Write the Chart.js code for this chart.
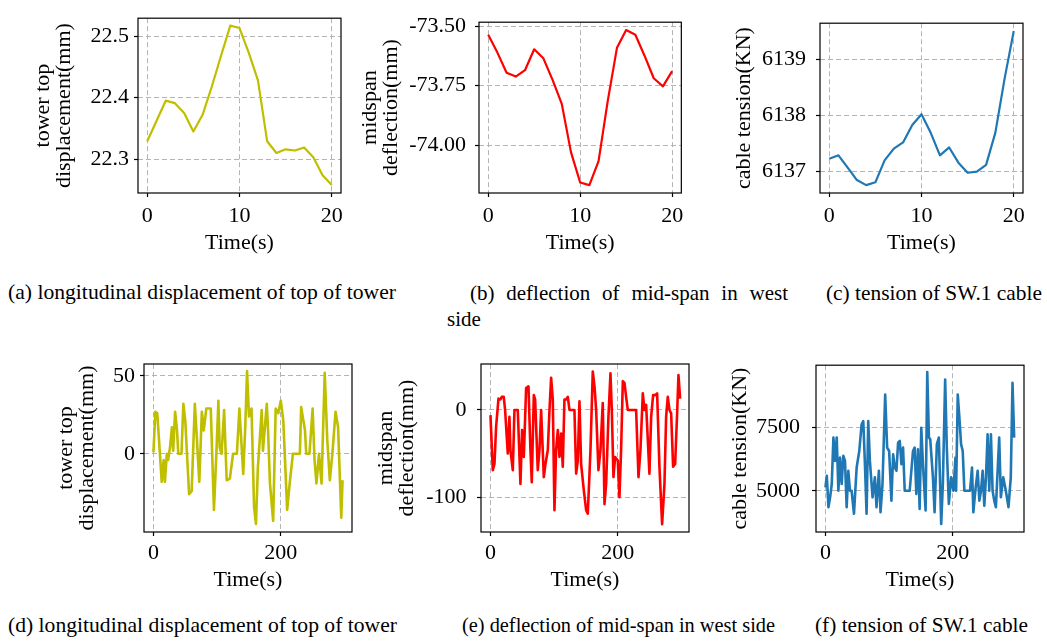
<!DOCTYPE html>
<html>
<head>
<meta charset="utf-8">
<script src="https://cdn.jsdelivr.net/npm/chart.js"></script>
<style>
  body { margin: 0; background: #fff; width: 1047px; height: 641px; position: relative; overflow: hidden;
         font-family: "Liberation Serif", "Times New Roman", serif; color: #000; }
  .cap { position: absolute; font-size: 21px; line-height: 21px; white-space: nowrap; transform-origin: 0 0; }
</style>
</head>
<body>

<div class="cap" data-w="388" style="left:8px; top:282px">(a) longitudinal displacement of top of tower</div>
<div class="cap" style="left:470px; top:283px; width:318px; text-align:justify; text-align-last:justify">(b) deflection of mid-span in west</div>
<div class="cap" style="left:447px; top:309px">side</div>
<div class="cap" data-w="216" style="left:826px; top:283px">(c) tension of SW.1 cable</div>
<div class="cap" data-w="389" style="left:8px; top:615px">(d) longitudinal displacement of top of tower</div>
<div class="cap" data-w="313" style="left:462px; top:615px">(e) deflection of mid-span in west side</div>
<div class="cap" data-w="213" style="left:815px; top:615px">(f) tension of SW.1 cable</div>

<script>
// ---- top row : first 20 s ----
const shortTime = [0, 1, 2, 3, 4, 5, 6, 7, 8, 9, 10, 11, 12, 13, 14, 15, 16, 17, 18, 19, 20];
const towerShort = [22.329, 22.362, 22.395, 22.391, 22.375, 22.345, 22.372, 22.418, 22.468, 22.517, 22.513,
                    22.473, 22.428, 22.329, 22.310, 22.316, 22.314, 22.319, 22.303, 22.274, 22.258];
const midspanShort = [-73.536, -73.611, -73.696, -73.712, -73.685, -73.597, -73.635, -73.726, -73.827, -74.030, -74.158,
                      -74.169, -74.068, -73.814, -73.591, -73.516, -73.536, -73.624, -73.719, -73.753, -73.689];
const cableShort = [6137.23, 6137.29, 6137.07, 6136.85, 6136.76, 6136.81, 6137.20, 6137.41, 6137.52, 6137.83, 6138.02,
                    6137.69, 6137.29, 6137.43, 6137.16, 6136.98, 6137.00, 6137.12, 6137.69, 6138.65, 6139.50];

// ---- bottom row : whole record ----
const towerTime = [0, 3, 6, 13, 16, 18, 21, 23, 26, 29, 31, 34, 37, 39, 44, 47, 50, 56, 60, 65, 68, 72, 76, 79, 83, 86, 90,
                   95, 99, 102, 104, 107, 111, 115, 120, 125, 131, 135, 137, 141, 144, 147, 150, 154, 158, 161, 164, 170,
                   172, 178, 180, 183, 188, 192, 196, 200, 204, 206, 210, 214, 219, 230, 232, 238, 240, 245, 250, 253,
                   256, 260, 264, 269, 273, 277, 281, 286, 290, 295, 297];
const towerLong = [1, 27, 26, -18, -4, -18, 0, -4, 4, 17, 2, 27, 15, 0, 0, 32, 21, -26, -24, 32, 11, -18, 27, 15, 29, 29, 29,
                   -36, 2, 34, 4, 0, 28, -17, -16, 0, 0, 29, 15, -13, 15, 53, 24, 29, -34, -45, -9, 28,
                   2, 32, 15, -19, -43, 29, 26, 34, 21, 2, -36, -19, 0, 0, 30, 15, 0, 0, 29, -4,
                   -19, 0, -19, 52, 9, -17, 0, 27, 17, -41, -17];

const midspanTime = [0, 3.7, 6.3, 8.9, 12.6, 15.7, 17.8, 20.9, 23, 27.2, 29.8, 31.4, 35.1, 37.7, 42.9, 47.1, 49.7, 52.4,
                     56, 59.7, 62.8, 64.9, 68.1, 70.2, 74.3, 77, 79.6, 83.8, 86.4, 90.1, 92.7, 95.3, 97.9, 100.5,
                     103.1, 105.8, 108.4, 111, 113.6, 116.2, 118.8, 121.5, 124.1, 131.9, 134.6, 137.2, 139.8, 142.4,
                     146.6, 150.3, 152.9, 157.1, 160.7, 163.4, 166, 169.6, 172.8, 176.4, 179.1, 181.7, 185.3, 188.5,
                     190.6, 193.2, 195.8, 200, 202.6, 205.2, 207.9, 210.5, 213.1, 215.7, 228.8, 232.5, 235.6, 239.3,
                     241.9, 244.5, 249.7, 252.4, 255.5, 258.6, 261.8, 265.4, 269.6, 273.3, 275.9, 278.5, 281.2,
                     283.8, 286.9, 290.1, 293.2, 295.3, 297.9];
const midspanLong = [-6, -69, -62, -19, 13, 12, 15, 15, 0, -50, -8, -46, -69, 0, 0, -85, -23, -54,
                     25, 27, -46, -83, 17, 12, -69, -46, 0, -77, -62, -46, 0, 37, 12, -115,
                     -46, -23, -54, -27, -65, 12, 12, 15, 0, 0, -73, -58, 10, -62,
                     -92, -115, -119, -46, 44, 27, 0, -69, -46, 8, -108, -85, -8, 42,
                     0, -77, -54, -58, -100, -46, 33, 31, 15, 0, 0, -77, -46, 19,
                     0, 6, -73, -8, 17, 17, 19, -65, -131, -85, -8, 15, 0,
                     -4, -65, -62, -4, 40, 13];

const cableTime = [0, 2.1, 4.7, 7.3, 9.9, 12.5, 15.1, 17.7, 20.3, 22.9, 25.5, 28.1, 30.7, 33.3, 35.9, 38.5, 41.1, 44.8,
                   49, 53.1, 56.8, 59.4, 62, 64.6, 67.2, 69.8, 74, 77.6, 80.2, 83.9, 86.5, 89.6, 93.8, 96.9, 100,
                   103.6, 106.3, 108.9, 111.5, 114.1, 116.7, 119.3, 121.9, 124.5, 132.3, 137.5, 140.1, 142.7, 145.3,
                   147.9, 150.5, 153.1, 157.3, 159.9, 162.5, 164.6, 168.8, 171.4, 175, 178.1, 181.8, 184.4, 188,
                   190.6, 193.8, 197.4, 201, 204.2, 205.2, 207.8, 210.4, 213, 215.6, 218.2, 227.1, 230.2, 232.3,
                   235.4, 239.1, 241.7, 244.3, 246.9, 249.5, 252.1, 254.7, 257.3, 259.9, 262.5, 265.1, 267.7,
                   272.9, 275.5, 279.2, 283.3, 287.5, 291.1, 293.8, 296.4];
const cableLong = [5144, 5600, 4360, 4750, 5275, 7110, 6190, 7110, 5010, 6320, 5275, 6390, 6190, 4360, 5800, 5010, 5010, 4100,
                   5930, 6580, 7630, 7760, 6060, 4100, 7760, 6190, 4750, 5540, 4360, 5800, 4160, 5275, 8810, 6715, 6580,
                   4620, 6450, 5930, 5800, 6910, 6980, 6060, 6715, 5010, 5010, 6580, 6715, 4880, 6650,
                   4290, 7500, 6060, 4230, 9700, 7110, 7040, 5540, 4160, 6850, 7110, 3700, 5275, 9400,
                   6715, 4490, 5540, 5010, 6320, 5010, 8810, 7890, 6850, 6580, 5010, 5010, 5930, 4160,
                   5010, 5800, 4620, 5010, 5800, 4420, 5540, 7240, 5010, 7240, 5010, 4620, 4360,
                   7110, 4750, 5540, 5010, 4360, 5540, 9270, 7110];

// ---- ticks ----
const shortXTicks = [0, 10, 20];
const longXTicks = [0, 200];
const towerShortTicks = [22.3, 22.4, 22.5];
const towerShortLabels = ['22.3', '22.4', '22.5'];
const midspanShortTicks = [-74.0, -73.75, -73.5];
const midspanShortLabels = ['-74.00', '-73.75', '-73.50'];
const cableShortTicks = [6137, 6138, 6139];
const towerLongTicks = [0, 50];
const midspanLongTicks = [-100, 0];
const cableLongTicks = [5000, 7500];

const serif = '"Liberation Serif", "Times New Roman", serif';

// stretch captions to the width they take in the figure
document.querySelectorAll('.cap[data-w]').forEach(el => {
  let w = el.getBoundingClientRect().width;
  el.style.transform = 'scaleX(' + (parseFloat(el.dataset.w) / w) + ')';
});

const framePlugin = {
  id: 'frame',
  afterDraw(chart) {
    let a = chart.chartArea;
    let ctx = chart.ctx;
    ctx.save();
    ctx.strokeStyle = '#000';
    ctx.lineWidth = 1.2;
    ctx.strokeRect(a.left, a.top, a.right - a.left, a.bottom - a.top);
    ctx.restore();
  }
};

function pairUp(xs, ys) {
  return xs.map((x, i) => ({ x: x, y: ys[i] }));
}

function makePanel(p) {
  let canva = document.createElement("canvas");
  canva.width = p.box.w;
  canva.height = p.box.h;
  canva.style.position = 'absolute';
  canva.style.left = p.box.x + 'px';
  canva.style.top = p.box.y + 'px';
  canva.style.width = p.box.w + 'px';
  canva.style.height = p.box.h + 'px';
  document.body.appendChild(canva);

  let yWidth = p.area.l - p.box.x;
  let padRight = p.box.x + p.box.w - p.area.r;
  let padTop = p.area.t - p.box.y;
  let xHeight = p.box.y + p.box.h - p.area.b;
  let yTitleLine = 21;

  let grid = { color: '#b4b4b4', lineWidth: 1, tickLength: 4, tickColor: '#000', tickWidth: 1.2, tickBorderDash: [] };

  new Chart(canva.getContext('2d'), {
    type: 'line',
    data: {
      datasets: [{
        data: pairUp(p.xs, p.ys),
        borderColor: p.color,
        borderWidth: p.lw,
        pointRadius: 0,
        tension: 0,
        fill: false,
        borderJoinStyle: 'round'
      }]
    },
    options: {
      responsive: false,
      animation: false,
      devicePixelRatio: 1,
      layout: { padding: { left: 0, top: padTop, right: padRight, bottom: 0 } },
      plugins: { legend: { display: false }, tooltip: { enabled: false } },
      scales: {
        x: {
          type: 'linear',
          min: p.xMin, max: p.xMax,
          afterBuildTicks: s => { s.ticks = p.xTicks.map(v => ({ value: v })); },
          afterFit: s => { s.height = xHeight; },
          ticks: { font: { family: serif, size: 22 }, color: '#000', padding: p.xPad, maxRotation: 0, autoSkip: false,
                   callback: v => String(v) },
          grid: grid,
          border: { display: false, dash: [5, 3] },
          title: { display: true, text: 'Time(s)', color: '#000', font: { family: serif, size: 22 },
                   padding: { top: 0, bottom: p.xTitlePad } }
        },
        y: {
          type: 'linear',
          min: p.yMin, max: p.yMax,
          afterBuildTicks: s => { s.ticks = p.yTicks.map(v => ({ value: v })); },
          afterFit: s => { s.width = yWidth; },
          ticks: { font: { family: serif, size: 22 }, color: '#000', padding: p.yPad, autoSkip: false,
                   callback: (v, i) => p.yLabels ? p.yLabels[i] : String(v) },
          grid: grid,
          border: { display: false, dash: [5, 3] },
          title: { display: true, text: p.yTitle, color: '#000',
                   font: { family: serif, size: 22, lineHeight: yTitleLine / 22 },
                   padding: { top: p.yTitleX - p.box.x - yTitleLine / 2, bottom: 0 } }
        }
      }
    },
    plugins: [framePlugin]
  });
}

makePanel({ box: { x: 0, y: 0, w: 350, h: 262 }, area: { l: 138, r: 341, t: 15, b: 193 },
  xs: shortTime, ys: towerShort, color: '#bfbf00', lw: 2.2,
  xMin: -1, xMax: 21, xTicks: shortXTicks, xPad: 6.5, xTitlePad: 6,
  yMin: 22.245, yMax: 22.529, yTicks: towerShortTicks, yLabels: towerShortLabels, yPad: 5,
  yTitle: ['tower top', 'displacement(mm)'], yTitleX: 43 });

makePanel({ box: { x: 350, y: 0, w: 340, h: 262 }, area: { l: 479, r: 682, t: 15, b: 193 },
  xs: shortTime, ys: midspanShort, color: '#ff0000', lw: 2.2,
  xMin: -1, xMax: 21, xTicks: shortXTicks, xPad: 6.5, xTitlePad: 6,
  yMin: -74.202, yMax: -73.483, yTicks: midspanShortTicks, yLabels: midspanShortLabels, yPad: 9,
  yTitle: ['midspan', 'deflection(mm)'], yTitleX: 370.5 });

makePanel({ box: { x: 690, y: 0, w: 357, h: 262 }, area: { l: 820, r: 1023, t: 15, b: 193 },
  xs: shortTime, ys: cableShort, color: '#1f77b4', lw: 2.2,
  xMin: -1, xMax: 21, xTicks: shortXTicks, xPad: 6.5, xTitlePad: 6,
  yMin: 6136.62, yMax: 6139.64, yTicks: cableShortTicks, yPad: 10,
  yTitle: 'cable tension(KN)', yTitleX: 744 });

makePanel({ box: { x: 0, y: 340, w: 360, h: 262 }, area: { l: 144, r: 352, t: 364, b: 532 },
  xs: towerTime, ys: towerLong, color: '#bfbf00', lw: 2.6,
  xMin: -14.85, xMax: 311.85, xTicks: longXTicks, xPad: 4.4, xTitlePad: 8.8,
  yMin: -50.2, yMax: 57.6, yTicks: towerLongTicks, yPad: 5,
  yTitle: ['tower top', 'displacement(mm)'], yTitleX: 66 });

makePanel({ box: { x: 360, y: 340, w: 340, h: 262 }, area: { l: 481, r: 689, t: 364, b: 532 },
  xs: midspanTime, ys: midspanLong, color: '#ff0000', lw: 2.6,
  xMin: -14.85, xMax: 311.85, xTicks: longXTicks, xPad: 4.4, xTitlePad: 8.8,
  yMin: -140, yMax: 52.7, yTicks: midspanLongTicks, yPad: 10.5,
  yTitle: ['midspan', 'deflection(mm)'], yTitleX: 386.5 });

makePanel({ box: { x: 700, y: 340, w: 347, h: 262 }, area: { l: 816, r: 1024, t: 364, b: 532 },
  xs: cableTime, ys: cableLong, color: '#1f77b4', lw: 2.6,
  xMin: -14.85, xMax: 311.85, xTicks: longXTicks, xPad: 4.4, xTitlePad: 8.8,
  yMin: 3380, yMax: 9970, yTicks: cableLongTicks, yPad: 12,
  yTitle: 'cable tension(KN)', yTitleX: 740.5 });
</script>
</body>
</html>
